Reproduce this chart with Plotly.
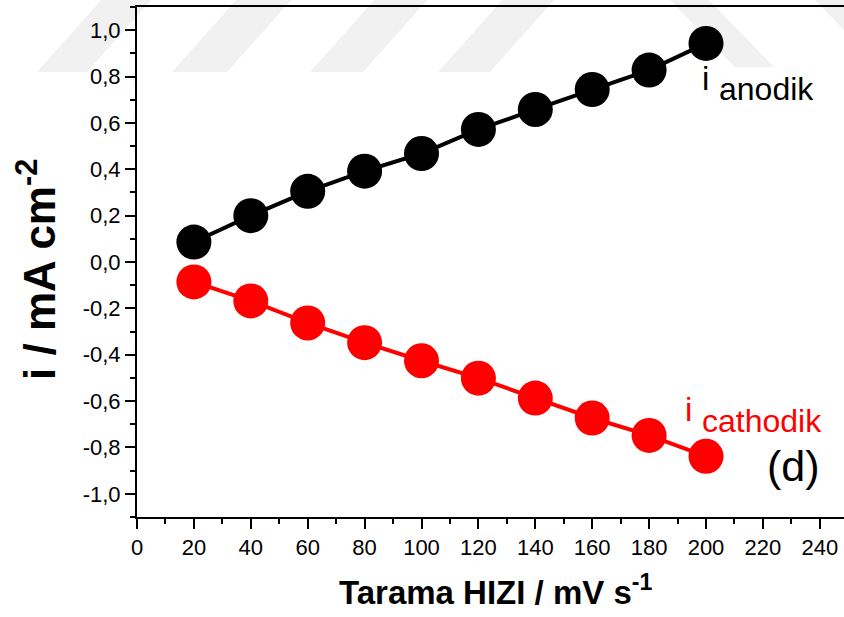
import plotly.graph_objects as go

# ---- data ----
scan_rate = [20, 40, 60, 80, 100, 120, 140, 160, 180, 200]
i_anodic = [0.086, 0.200, 0.305, 0.392, 0.468, 0.572, 0.658, 0.744, 0.828, 0.943]
i_cathodic = [-0.086, -0.168, -0.263, -0.348, -0.426, -0.501, -0.587, -0.673, -0.748, -0.838]

x_tick_vals = [0, 20, 40, 60, 80, 100, 120, 140, 160, 180, 200, 220, 240]
x_tick_text = ["0", "20", "40", "60", "80", "100", "120", "140", "160", "180", "200", "220", "240"]
y_tick_vals = [1.0, 0.8, 0.6, 0.4, 0.2, 0.0, -0.2, -0.4, -0.6, -0.8, -1.0]
y_tick_text = ["1,0", "0,8", "0,6", "0,4", "0,2", "0,0", "-0,2", "-0,4", "-0,6", "-0,8", "-1,0"]

FONT = "Liberation Sans, Arial, sans-serif"

# layout geometry (pixels)
W, H = 844, 617
ML, MR, MT, MB = 137, 0, 7, 100
PW, PH = W - ML - MR, H - MT - MB


def px(x):
    return (x - ML) / PW


def py(y):
    return (MT + PH - y) / PH


fig = go.Figure()
fig.add_trace(go.Scatter(
    x=scan_rate, y=i_anodic, mode="lines+markers", name="i anodik",
    line=dict(color="black", width=4),
    marker=dict(color="black", size=35),
    cliponaxis=False,
))
fig.add_trace(go.Scatter(
    x=scan_rate, y=i_cathodic, mode="lines+markers", name="i cathodik",
    line=dict(color="#ff0000", width=4),
    marker=dict(color="#ff0000", size=35),
    cliponaxis=False,
))

# faint watermark stripes at the top
shapes = []
for b1, b2 in [(37, 87), (172, 227), (310, 363), (438, 490)]:
    s = 66
    path = (f"M {px(b1)},{py(72)} L {px(b2)},{py(72)} "
            f"L {px(b2 + s)},{py(-2)} L {px(b1 + s)},{py(-2)} Z")
    shapes.append(dict(type="path", path=path, xref="paper", yref="paper",
                       fillcolor="#f1f1f1", line=dict(width=0), layer="below"))
for t1, t2, dy in [(668, 707, 67), (813, 870, 60)]:
    path = (f"M {px(t1)},{py(-2)} L {px(t2)},{py(-2)} "
            f"L {px(t2 + dy)},{py(dy)} L {px(t1 + dy)},{py(dy)} Z")
    shapes.append(dict(type="path", path=path, xref="paper", yref="paper",
                       fillcolor="#f1f1f1", line=dict(width=0), layer="below"))

annotations = [
    dict(text="i", x=197.8, y=0.791, xref="x", yref="y", xanchor="left", yanchor="middle",
         showarrow=False, font=dict(family=FONT, size=33, color="black")),
    dict(text="anodik", x=203.8, y=0.748, xref="x", yref="y", xanchor="left", yanchor="middle",
         showarrow=False, font=dict(family=FONT, size=32, color="black")),
    dict(text="i", x=191.9, y=-0.638, xref="x", yref="y", xanchor="left", yanchor="middle",
         showarrow=False, font=dict(family=FONT, size=33, color="#ff0000")),
    dict(text="cathodik", x=197.8, y=-0.686, xref="x", yref="y", xanchor="left", yanchor="middle",
         showarrow=False, font=dict(family=FONT, size=32, color="#ff0000")),
    dict(text="(d)", x=230.9, y=-0.882, xref="x", yref="y", xanchor="center", yanchor="middle",
         showarrow=False, font=dict(family=FONT, size=43, color="black")),
    dict(text="<b>i / mA cm<sup>-2</sup></b>", x=px(36), y=py(270), xref="paper", yref="paper",
         xanchor="center", yanchor="middle", textangle=-90, showarrow=False,
         font=dict(family=FONT, size=44, color="black")),
    dict(text="<b>Tarama HIZI / mV s<sup>-1</sup></b>", x=px(496), y=py(590), xref="paper", yref="paper",
         xanchor="center", yanchor="middle", showarrow=False,
         font=dict(family=FONT, size=33, color="black")),
]

fig.update_layout(
    template="none",
    width=W, height=H,
    margin=dict(l=ML, r=MR, t=MT, b=MB, pad=0, autoexpand=False),
    paper_bgcolor="white", plot_bgcolor="rgba(0,0,0,0)",
    showlegend=False,
    shapes=shapes,
    annotations=annotations,
    font=dict(family=FONT, color="black"),
)

fig.update_xaxes(
    automargin=False,
    range=[0, PW / (56.9 / 20)],
    tickvals=x_tick_vals, ticktext=x_tick_text,
    ticks="outside", ticklen=10, tickwidth=2, tickcolor="black",
    minor=dict(ticks="outside", ticklen=5, tickwidth=2, dtick=10, tick0=0, tickcolor="black"),
    showline=True, linewidth=2, linecolor="black", mirror=True,
    showgrid=False, zeroline=False,
    tickfont=dict(family=FONT, size=22, color="black"),
)
fig.update_yaxes(
    automargin=False,
    range=[-1.1, 1.1],
    tickvals=y_tick_vals, ticktext=y_tick_text,
    ticks="outside", ticklen=10, tickwidth=2, tickcolor="black",
    minor=dict(ticks="outside", ticklen=5, tickwidth=2, dtick=0.1, tick0=0, tickcolor="black"),
    showline=True, linewidth=2, linecolor="black",
    showgrid=False, zeroline=False,
    tickfont=dict(family=FONT, size=22, color="black"),
)

fig.write_html(
    "out.html",
    config={"displayModeBar": False},
    post_script="document.body.style.margin='0';document.body.style.overflow='hidden';",
)
